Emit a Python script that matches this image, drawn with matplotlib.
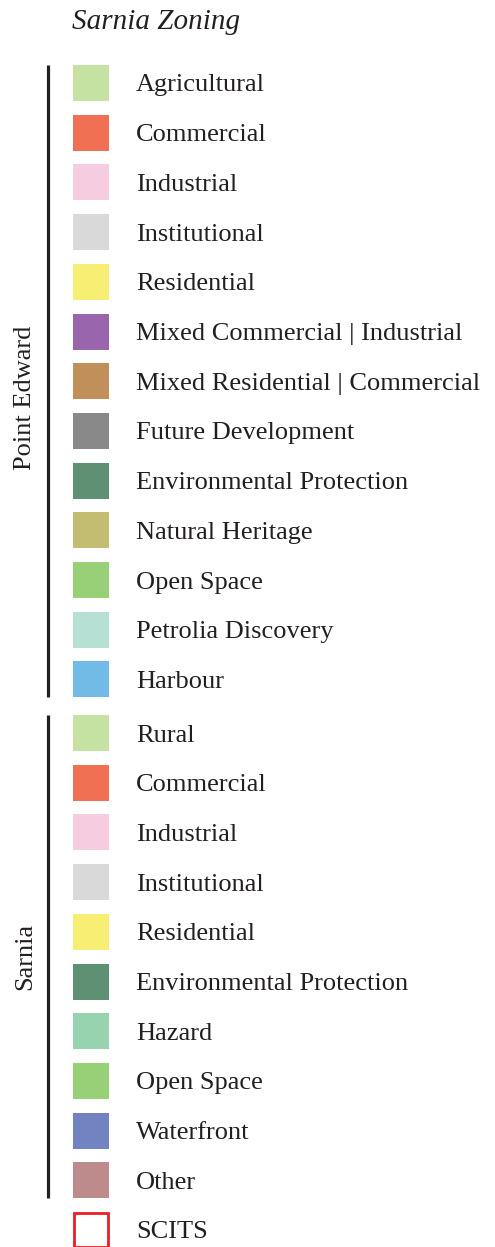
import matplotlib
matplotlib.use('Agg')
import matplotlib.pyplot as plt
from matplotlib.patches import Rectangle

# legend entries
pe_labels = ['Agricultural', 'Commercial', 'Industrial', 'Institutional', 'Residential',
             'Mixed Commercial | Industrial', 'Mixed Residential | Commercial',
             'Future Development', 'Environmental Protection', 'Natural Heritage',
             'Open Space', 'Petrolia Discovery', 'Harbour']
pe_colors = ['#c6e2a3', '#ef7052', '#f6cde0', '#d9d9d9', '#f7ef73',
             '#9966ad', '#c08f5a', '#8a898a', '#5e9173', '#c2bd71',
             '#98d077', '#b5e0d3', '#72bbe7']

sarnia_labels = ['Rural', 'Commercial', 'Industrial', 'Institutional', 'Residential',
                 'Environmental Protection', 'Hazard', 'Open Space', 'Waterfront', 'Other']
sarnia_colors = ['#c6e2a3', '#ef7052', '#f6cde0', '#d9d9d9', '#f7ef73',
                 '#5e9173', '#98d3b0', '#98d077', '#7283c2', '#be8b8c']

title = 'Sarnia Zoning'
text_col = '#231f20'
font = 'Liberation Serif'
fs = 19

W, H = 495, 1247
fig = plt.figure(figsize=(W / 100, H / 100), dpi=100)
ax = fig.add_axes([0, 0, 1, 1])
ax.set_xlim(0, W)
ax.set_ylim(H, 0)
ax.axis('off')

step = 49.7
sw = 36


def draw_row(y, label, color, edge=None):
    if edge:
        ax.add_patch(Rectangle((74, y - sw / 2 + 1), sw - 2, sw - 2, facecolor='white',
                               edgecolor=edge, linewidth=2))
    else:
        ax.add_patch(Rectangle((73, y - sw / 2), sw, sw, facecolor=color, edgecolor='none'))
    ax.text(136, y + 8.5, label, fontsize=fs, family=font, color=text_col,
            va='baseline', ha='left')


ax.text(72, 29, title, fontsize=21, family=font, style='italic', color=text_col,
        va='baseline', ha='left')

y0 = 83
for i, (lab, c) in enumerate(zip(pe_labels, pe_colors)):
    draw_row(y0 + i * step, lab, c)
pe_top, pe_bot = y0 - sw / 2, y0 + (len(pe_labels) - 1) * step + sw / 2
ax.plot([47.5, 47.5], [pe_top, pe_bot], color=text_col, lw=2.3, solid_capstyle='butt')
ax.text(25, (pe_top + pe_bot) / 2 + 17, 'Point Edward', rotation=90, fontsize=fs, family=font,
        color=text_col, va='center', ha='center')

y1 = 733
for i, (lab, c) in enumerate(zip(sarnia_labels, sarnia_colors)):
    draw_row(y1 + i * step, lab, c)
s_top, s_bot = y1 - sw / 2, y1 + (len(sarnia_labels) - 1) * step + sw / 2
ax.plot([47.5, 47.5], [s_top, s_bot], color=text_col, lw=2.3, solid_capstyle='butt')
ax.text(25, (s_top + s_bot) / 2, 'Sarnia', rotation=90, fontsize=fs, family=font,
        color=text_col, va='center', ha='center')

draw_row(y1 + len(sarnia_labels) * step, 'SCITS', None, edge='#ee1c25')

fig.savefig('out.png', dpi=100, facecolor='white')
